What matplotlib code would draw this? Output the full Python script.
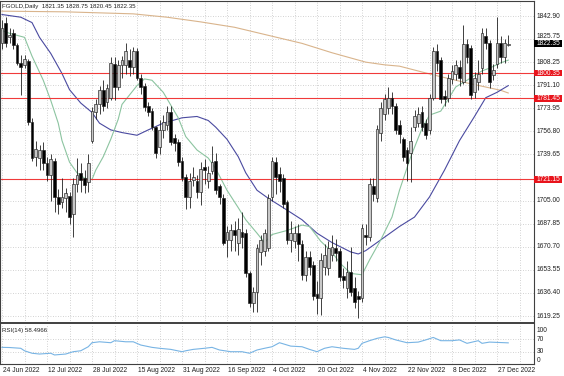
"""Daily FGOLD candlestick chart with moving averages, levels and RSI panel."""

import matplotlib

matplotlib.use("Agg")
import matplotlib.pyplot as plt
import matplotlib.transforms as mtransforms
from matplotlib.patches import Rectangle

# --- data ------------------------------------------------------------------
opens = [
    1823, 1838, 1827, 1830, 1821, 1808, 1806, 1809, 1764, 1738,
    1737, 1743, 1733, 1724, 1735, 1708, 1704, 1707, 1709, 1695,
    1718, 1726, 1722, 1719, 1750, 1771, 1777, 1788, 1779, 1782,
    1807, 1790, 1806, 1806, 1810, 1805, 1817, 1797, 1791, 1776,
    1772, 1760, 1745, 1758, 1762, 1771, 1752, 1749, 1735, 1723,
    1708, 1721, 1720, 1712, 1730, 1720, 1727, 1735, 1716, 1707,
    1676, 1676, 1683, 1674, 1682, 1681, 1651, 1629, 1637, 1667,
    1668, 1670, 1708, 1734, 1725, 1722, 1704, 1676, 1675, 1681,
    1673, 1650, 1663, 1657, 1636, 1633, 1656, 1655, 1665, 1670,
    1668, 1649, 1640, 1652, 1640, 1634, 1633, 1680, 1678, 1716,
    1707, 1756, 1770, 1774, 1782, 1776, 1762, 1751, 1743, 1741,
    1760, 1763, 1771, 1763, 1758, 1782, 1817, 1810, 1783, 1782,
    1796, 1800, 1805, 1794, 1822, 1819, 1786, 1794, 1804, 1828,
    1823, 1799, 1807, 1823, 1812, 1821.35,
]
highs = [
    1840, 1842, 1834, 1833, 1823, 1814, 1814, 1811, 1767, 1750,
    1747, 1749, 1738, 1740, 1737, 1714, 1722, 1715, 1712, 1722,
    1737, 1733, 1728, 1740, 1775, 1781, 1791, 1795, 1792, 1812,
    1812, 1810, 1813, 1823, 1818, 1820, 1819, 1800, 1793, 1779,
    1774, 1761, 1765, 1769, 1776, 1776, 1755, 1751, 1738, 1725,
    1726, 1730, 1724, 1734, 1736, 1731, 1746, 1741, 1718, 1710,
    1686, 1688, 1690, 1692, 1697, 1684, 1653, 1641, 1673, 1680,
    1684, 1710, 1738, 1738, 1730, 1725, 1706, 1690, 1686, 1688,
    1676, 1668, 1668, 1660, 1645, 1666, 1673, 1675, 1680, 1677,
    1670, 1655, 1660, 1671, 1648, 1638, 1688, 1688, 1722, 1722,
    1762, 1779, 1785, 1790, 1786, 1778, 1765, 1753, 1745, 1760,
    1773, 1775, 1776, 1766, 1785, 1820, 1822, 1812, 1788, 1800,
    1806, 1810, 1810, 1836, 1826, 1821, 1801, 1810, 1834, 1834,
    1825, 1807, 1842, 1828, 1826, 1828.75,
]
lows = [
    1818, 1820, 1823, 1818, 1806, 1784, 1804, 1762, 1735, 1731,
    1728, 1728, 1720, 1705, 1697, 1695, 1700, 1697, 1688, 1678,
    1712, 1712, 1711, 1712, 1748, 1766, 1770, 1772, 1774, 1780,
    1780, 1788, 1797, 1800, 1798, 1800, 1795, 1785, 1772, 1768,
    1758, 1737, 1740, 1752, 1758, 1747, 1742, 1731, 1720, 1699,
    1700, 1716, 1707, 1702, 1718, 1715, 1725, 1710, 1703, 1672,
    1663, 1668, 1668, 1665, 1670, 1648, 1626, 1622, 1622, 1657,
    1664, 1668, 1705, 1710, 1712, 1700, 1673, 1667, 1670, 1660,
    1646, 1645, 1650, 1631, 1621, 1620, 1650, 1650, 1660, 1660,
    1645, 1640, 1633, 1634, 1625, 1618, 1630, 1672, 1675, 1705,
    1704, 1750, 1765, 1770, 1770, 1755, 1748, 1735, 1720, 1719,
    1757, 1760, 1757, 1751, 1755, 1780, 1802, 1778, 1776, 1779,
    1792, 1795, 1791, 1792, 1808, 1781, 1782, 1788, 1800, 1818,
    1789, 1795, 1804, 1808, 1808, 1820.45,
]
closes = [
    1834, 1823, 1829, 1821, 1808, 1805, 1811, 1764, 1737, 1744,
    1743, 1733, 1724, 1736, 1708, 1703, 1708, 1711, 1693, 1718,
    1724, 1721, 1717, 1733, 1772, 1777, 1788, 1776, 1789, 1808,
    1790, 1806, 1810, 1817, 1805, 1817, 1797, 1790, 1775, 1771,
    1760, 1741, 1758, 1764, 1771, 1749, 1748, 1734, 1722, 1708,
    1720, 1723, 1712, 1729, 1728, 1726, 1734, 1713, 1708, 1674,
    1682, 1683, 1680, 1684, 1678, 1651, 1629, 1637, 1670, 1676,
    1681, 1707, 1735, 1723, 1720, 1703, 1676, 1681, 1681, 1673,
    1650, 1663, 1656, 1634, 1633, 1661, 1665, 1670, 1671, 1666,
    1648, 1646, 1652, 1637, 1630, 1632, 1685, 1678, 1718, 1710,
    1759, 1774, 1781, 1782, 1776, 1758, 1755, 1738, 1733, 1750,
    1768, 1770, 1760, 1754, 1782, 1817, 1808, 1781, 1781, 1797,
    1802, 1806, 1797, 1822, 1812, 1784, 1797, 1800, 1830, 1823,
    1794, 1803, 1823, 1812, 1823, 1822.35,
]

# moving averages, sampled at bar positions
fast_ma_bars = [0, 2, 6, 8, 11, 13, 15, 16, 18, 20, 22, 24, 25, 27, 29, 31, 32, 34,
                36, 38, 40, 43, 47, 49, 52, 55, 57, 60, 63, 65, 68, 70, 72, 76, 80,
                82, 85, 88, 90, 93, 96, 98, 101, 104, 106, 109, 112, 114, 117, 121,
                124, 128, 130, 133, 135]
fast_ma_values = [1832, 1830, 1827, 1813, 1795, 1780, 1763, 1750, 1734, 1726, 1722,
                  1721, 1728, 1738, 1751, 1766, 1777, 1784, 1791, 1796, 1795, 1786,
                  1767, 1753, 1743, 1737, 1729, 1713, 1700, 1691, 1681, 1674, 1680,
                  1683, 1687, 1686, 1675, 1667, 1659, 1651, 1650, 1661, 1676, 1693,
                  1713, 1738, 1759, 1769, 1772, 1790, 1795, 1802, 1804, 1808, 1810]

mid_ma_bars = [0, 5, 8, 10, 13, 16, 18, 21, 24, 26, 29, 32, 36, 39, 43, 48, 52, 55,
               57, 60, 63, 65, 68, 71, 75, 80, 84, 88, 93, 95, 97, 101, 106, 110,
               114, 118, 122, 126, 129, 132, 135]
mid_ma_values = [1844, 1842, 1838, 1827, 1815, 1800, 1788, 1778, 1771, 1763, 1758,
                 1756, 1754, 1758, 1763, 1767, 1768, 1765, 1760, 1751, 1738, 1726,
                 1713, 1707, 1700, 1691, 1681, 1674, 1667, 1665.5, 1668, 1676, 1686,
                 1693, 1708, 1728, 1750, 1768, 1782, 1786, 1791]

slow_ma_bars = [0, 17, 35, 44, 53, 62, 71, 80, 88, 97, 102, 106, 115, 124, 133, 135]
slow_ma_values = [1846.5, 1846, 1844.5, 1842, 1838.5, 1834.5, 1828.5, 1822.5,
                  1815.5, 1808.5, 1806.5, 1805.5, 1799, 1793, 1787.5, 1785.5]

rsi_bars = [0, 2, 5, 6, 8, 10, 13, 14, 17, 19, 21, 23, 24, 26, 29, 30, 33, 35, 37,
            40, 42, 45, 48, 49, 51, 54, 56, 58, 61, 64, 66, 68, 70, 72, 74, 77, 80,
            82, 84, 86, 88, 91, 94, 95, 96, 98, 100, 102, 103, 105, 108, 111, 113,
            115, 117, 120, 122, 124, 127, 128, 130, 132, 135]
rsi_values = [44, 43.5, 41, 33, 25, 22.5, 25, 19.5, 22.5, 30, 33, 46, 59, 62, 59,
              65.5, 62, 62, 51.5, 44, 41, 37.5, 30, 33, 37.5, 41, 44, 35.5, 30, 30,
              25, 35.5, 41, 46, 59, 48, 46, 37.5, 30, 41, 46, 41, 37.5, 41, 57, 65.5,
              73, 78, 76, 68, 59, 61, 68, 76, 65.5, 65.5, 68, 57, 65.5, 57, 61, 60,
              58.5]

price_ticks = [1842.90, 1825.75, 1808.25, 1791.10, 1773.95, 1756.80, 1739.65,
               1705.00, 1687.85, 1670.70, 1653.55, 1636.40, 1619.25]
level_lines = [1800.35, 1781.45, 1721.15]
last_price = 1822.35
date_labels = ["24 Jun 2022", "12 Jul 2022", "28 Jul 2022", "15 Aug 2022",
               "31 Aug 2022", "16 Sep 2022", "4 Oct 2022", "20 Oct 2022",
               "4 Nov 2022", "22 Nov 2022", "8 Dec 2022", "27 Dec 2022"]
rsi_levels = [100, 70, 30, 0]

TITLE = "FGOLD,Daily  1821.35 1828.75 1820.45 1822.35"
RSI_TITLE = "RSI(14) 58.4966"

# --- layout (pixels of the 564x376 picture) --------------------------------
W, H = 564, 376
PX_PER_BAR = 3.75
FIRST_BAR_X = 2.0
PLOT_RIGHT = 534
PX_PER_USD = 1.3414
FONT = 4.8
BOX_HALF_PX = 3.4

GRID = dict(color="#c4c4c4", linewidth=0.6, linestyle=(0, (1, 2)))
FRAME = "#404040"


def bar_limits():
    left = (0 - FIRST_BAR_X) / PX_PER_BAR
    right = (PLOT_RIGHT - FIRST_BAR_X) / PX_PER_BAR
    return left, right


def style_frame(ax):
    for spine in ax.spines.values():
        spine.set_color(FRAME)
        spine.set_linewidth(0.8)
    ax.set_xticks([])
    ax.set_yticks([])


def draw_candles(ax):
    for i, (o, h, l, c) in enumerate(zip(opens, highs, lows, closes)):
        ax.vlines(i, l, h, color="#202020", linewidth=0.6, zorder=3)
        bull = c >= o
        ax.bar(i, abs(c - o), bottom=min(o, c), width=0.68,
               color="#c8c8c8" if bull else "black",
               edgecolor="#202020", linewidth=0.45, zorder=4)


def right_label(ax, trans, y, text, face=None, nudge_px=0.0):
    if face is not None:
        half = BOX_HALF_PX / PX_PER_USD
        ax.add_patch(Rectangle((1.0, y - half), 28 / PLOT_RIGHT, 2 * half,
                               transform=trans, facecolor=face, edgecolor="none",
                               clip_on=False, zorder=6))
    ax.text(1 + 3 / PLOT_RIGHT, y + nudge_px / PX_PER_USD, text, transform=trans,
            ha="left", va="center", fontsize=FONT,
            color="white" if face else "#202020", clip_on=False, zorder=7)


def draw_main(fig):
    top, bottom = 1, 323
    ax = fig.add_axes([0, (H - bottom) / H, PLOT_RIGHT / W, (bottom - top) / H])
    style_frame(ax)
    ax.spines["bottom"].set_linewidth(1.4)
    ax.set_xlim(*bar_limits())
    ax.set_ylim(1842.90 - (bottom - 16) / PX_PER_USD,
                1842.90 + (16 - top) / PX_PER_USD)

    for i in range(0, len(closes) + 6, 6):
        ax.axvline(i, zorder=0, **GRID)
    for p in price_ticks:
        ax.axhline(p, zorder=0, **GRID)

    ax.plot(slow_ma_bars, slow_ma_values, color="#d9b48c", linewidth=0.8, zorder=2)
    ax.plot(mid_ma_bars, mid_ma_values, color="#4a4aa0", linewidth=0.8, zorder=2)
    ax.plot(fast_ma_bars, fast_ma_values, color="#8cc4a0", linewidth=0.8, zorder=2)

    for level in level_lines:
        ax.axhline(level, color="#f03a3a", linewidth=0.8, zorder=2)

    draw_candles(ax)

    trans = mtransforms.blended_transform_factory(ax.transAxes, ax.transData)
    for p in price_ticks:
        # the tick just above the last-price box is lifted clear of it
        lift = 2.5 if abs(p - last_price) < 5 else 0.0
        right_label(ax, trans, p, f"{p:.2f}", nudge_px=lift)
    for level in level_lines:
        right_label(ax, trans, level, f"{level:.2f}", face="#e8141c")
    right_label(ax, trans, last_price, f"{last_price:.2f}", face="black")

    ax.text(2 / PLOT_RIGHT, 1 - 3 / (bottom - top), TITLE, transform=ax.transAxes,
            ha="left", va="top", fontsize=4.4, color="#202020")
    return ax


def draw_rsi(fig):
    top, bottom = 324, 364
    ax = fig.add_axes([0, (H - bottom) / H, PLOT_RIGHT / W, (bottom - top) / H])
    style_frame(ax)
    ax.spines["top"].set_visible(False)
    ax.set_xlim(*bar_limits())
    units_per_px = 100 / 31
    ax.set_ylim(0 - 3 * units_per_px, 100 + 6 * units_per_px)

    for i in range(0, len(closes) + 6, 6):
        ax.axvline(i, zorder=0, **GRID)
    for level in (70, 30):
        ax.axhline(level, zorder=0, **GRID)

    ax.plot(rsi_bars, rsi_values, color="#78b4e4", linewidth=0.8, zorder=2)

    trans = mtransforms.blended_transform_factory(ax.transAxes, ax.transData)
    for level in rsi_levels:
        ax.text(1 + 3 / PLOT_RIGHT, level, str(level), transform=trans, ha="left",
                va="center", fontsize=FONT, color="#202020", clip_on=False)

    ax.text(2 / PLOT_RIGHT, 1 - 4 / (bottom - top), RSI_TITLE, transform=ax.transAxes,
            ha="left", va="top", fontsize=4.4, color="#202020")

    dtrans = mtransforms.blended_transform_factory(ax.transData, ax.transAxes)
    for k, label in enumerate(date_labels):
        ax.text(12 * k + 0.2, (bottom - 370) / (bottom - top), label, transform=dtrans,
                ha="left", va="center", fontsize=FONT, color="#202020", clip_on=False)
    return ax


def main():
    plt.rcParams["font.family"] = ["Liberation Sans", "DejaVu Sans"]
    fig = plt.figure(figsize=(W / 100, H / 100), dpi=100)
    fig.patch.set_facecolor("white")
    draw_main(fig)
    draw_rsi(fig)
    fig.savefig("out.png", dpi=100, facecolor="white")
    plt.close(fig)


if __name__ == "__main__":
    main()
